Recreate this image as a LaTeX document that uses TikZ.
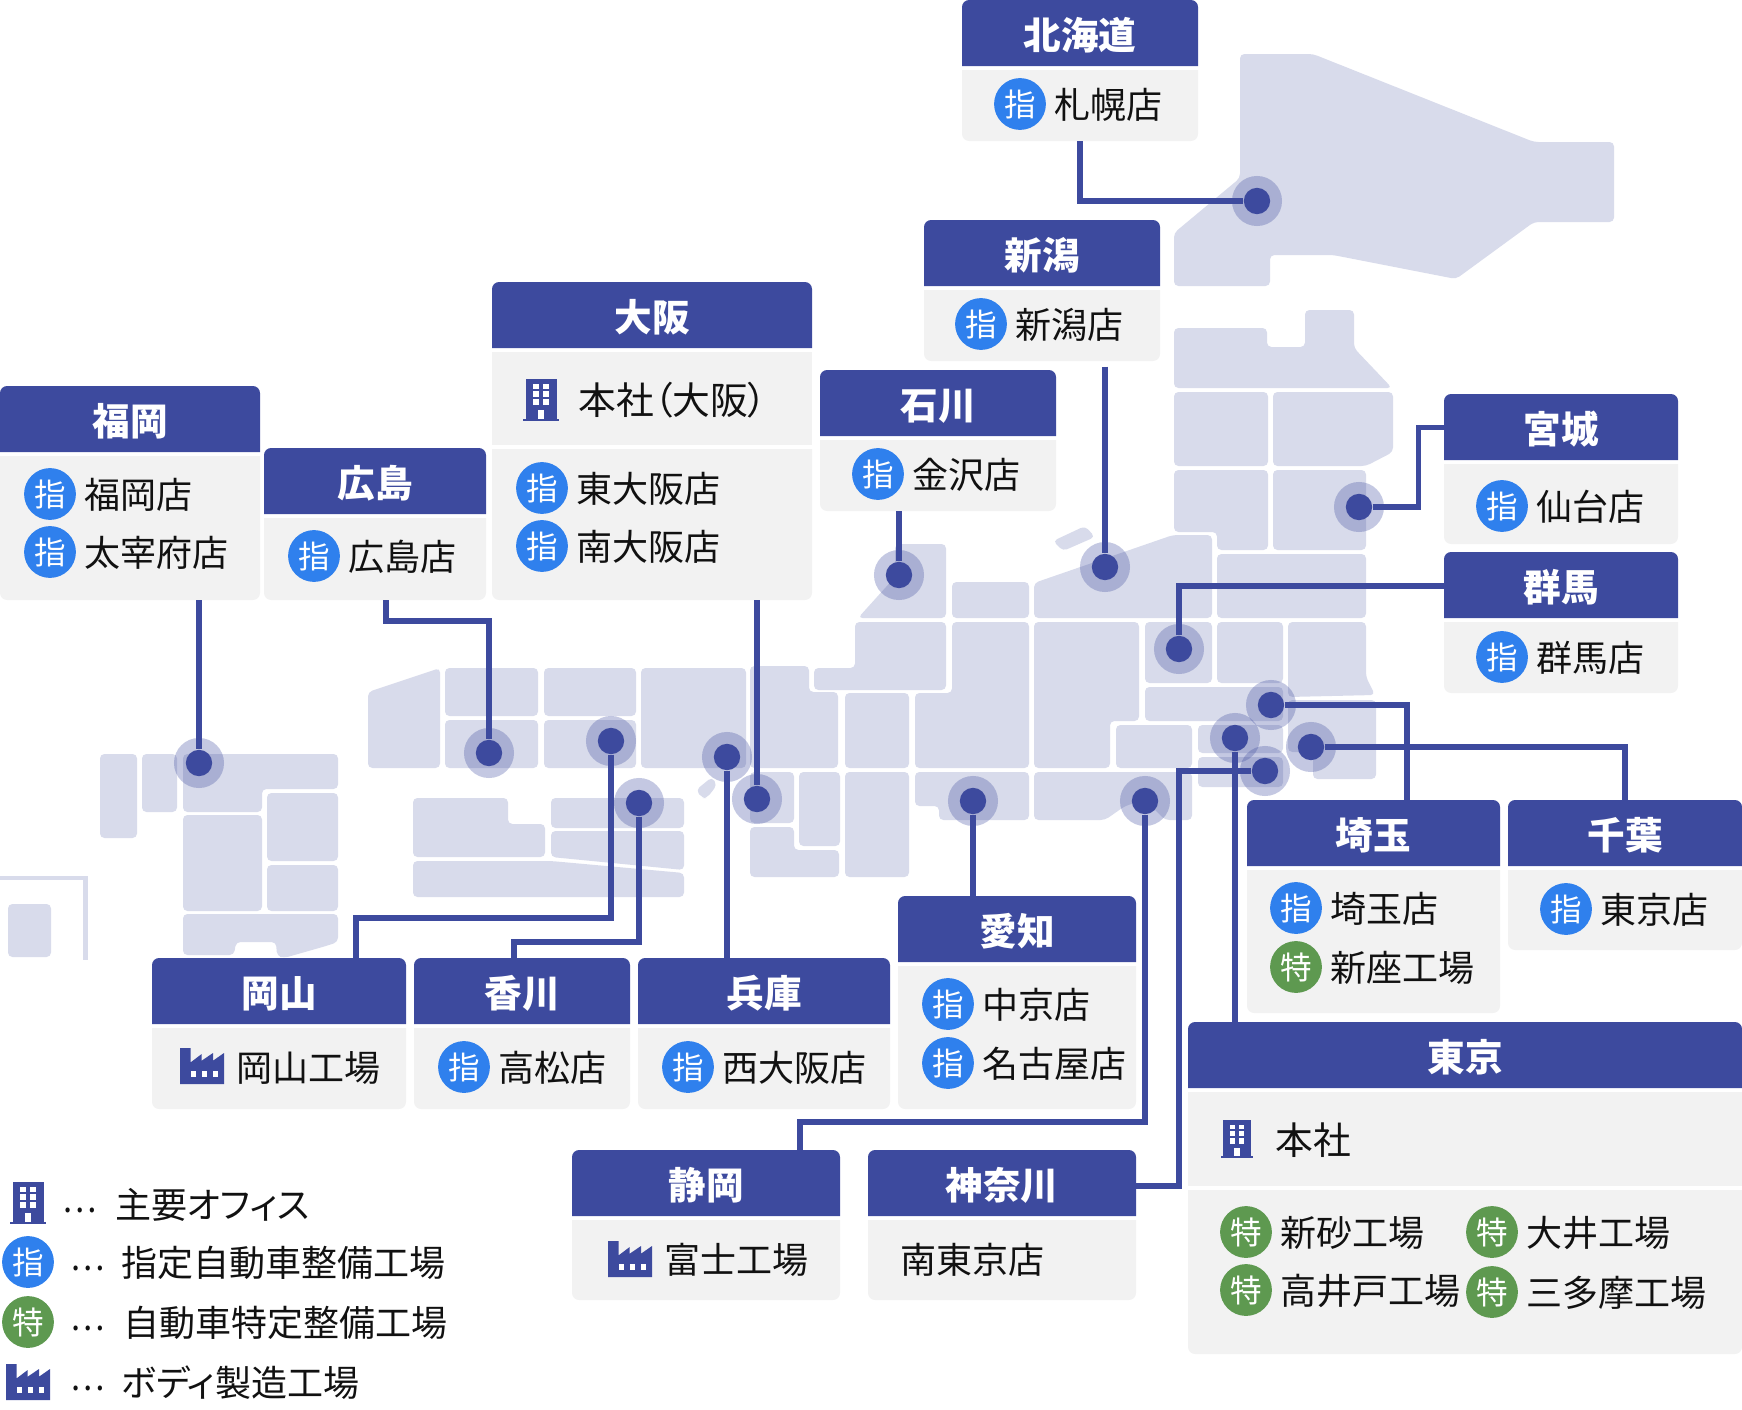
\documentclass[tikz,border=0pt]{standalone}
\usepackage{fontspec}
\usepackage{tikz}
\usetikzlibrary{positioning}
\setmainfont[RawFeature={+palt}]{Noto Sans CJK JP}

\definecolor{headc}{HTML}{3D4A9E}
\definecolor{bodyc}{HTML}{F2F2F2}
\definecolor{mapc}{HTML}{D8DBEB}
\definecolor{shic}{HTML}{2F80ED}
\definecolor{tokuc}{HTML}{5E9950}
\definecolor{textc}{HTML}{111111}

\tikzset{
        pref/.style={fill=mapc, rounded corners=2.5pt},
        link/.style={draw=headc, line width=3.1pt},
        halo/.style={circle, fill=headc, fill opacity=0.3, minimum size=28.5pt, inner sep=0},
        dot/.style={circle, fill=headc, minimum size=15pt, inner sep=0},
        headtext/.style={inner sep=0, minimum height=37.5pt, text=white, font=\fontsize{21.4pt}{25pt}\selectfont\bfseries, text height=21pt, text depth=2.5pt},
        bodybox/.style={inner sep=0},
        rowtext/.style={inner sep=0, text=textc, font=\fontsize{20.5pt}{25pt}\selectfont, text height=19.2pt, text depth=2.5pt},
        hqtext/.style={rowtext, font=\fontsize{21.5pt}{25pt}\selectfont},
        dotstext/.style={rowtext, yshift=3.8pt, xscale=0.9},
        badge/.style={circle, inner sep=0, minimum size=29.5pt, text=white, font=\fontsize{18pt}{22pt}\selectfont, text height=16.6pt, text depth=2.2pt},
        shibadge/.style={badge, fill=shic},
        tokubadge/.style={badge, fill=tokuc},
        office/.pic={
                \fill [headc] (-15.5,-21) rectangle (15.5,19);
                \fill [headc] (-18,19) rectangle (18,21);
                \fill [white] (-8,-16) rectangle (-2,-11);
                \fill [white] (2,-16) rectangle (8,-11);
                \fill [white] (-8,-9) rectangle (-2,-3);
                \fill [white] (2,-9) rectangle (8,-3);
                \fill [white] (-8,-1) rectangle (-2,5);
                \fill [white] (2,-1) rectangle (8,5);
                \fill [white] (-3,10) rectangle (3,19);
        },
        factory/.pic={
                \fill [headc] (-22,-18) -- (-11.3,-18) -- (-11.3,-3.7) -- (-0.3,-12) -- (-0.3,-5.3) -- (11,-13) -- (11,-5.3) -- (22,-13) -- (22,18) -- (-22,18) -- cycle;
                \fill [white] (-10.7,4.7) rectangle (-6.3,11.3);
                \fill [white] (0.3,4.7) rectangle (5.3,11.3);
                \fill [white] (11.3,4.7) rectangle (16,11.3);
        },
}

% name, left, right, top, title
\newcommand{\prefhead}[5]{
        \fill [headc] (#2,{#4+66}) [rounded corners=4pt] -- (#2,#4) -- (#3,#4) [sharp corners] -- (#3,{#4+66}) -- cycle;
        \node [headtext, minimum width={(#3-#2)*0.02cm}] (#1) at ({(#2+#3)/2},{#4+33}) {#5};
}
% name, left, right, top, bottom
\newcommand{\prefbody}[5]{
        \fill [bodyc] (#2,#4) -- (#3,#4) [rounded corners=4pt] -- (#3,#5) -- (#2,#5) [sharp corners] -- cycle;
        \node [bodybox, minimum width={(#3-#2)*0.02cm}, minimum height={(#5-#4)*0.02cm}] (#1) at ({(#2+#3)/2},{(#4+#5)/2}) {};
}
\newcommand{\shi}[4]{
        \node [shibadge] (#1) at (#2,#3) {指};
        \node [rowtext, right=4.5pt of #1] (#1t) {#4};
}
\newcommand{\toku}[4]{
        \node [tokubadge] (#1) at (#2,#3) {特};
        \node [rowtext, right=4.5pt of #1] (#1t) {#4};
}
\newcommand{\spot}[3]{
        \node [halo] (#1h) at (#2,#3) {};
        \node [dot] (#1) at (#2,#3) {};
}

\begin{document}
\begin{tikzpicture}[x=0.02cm, y=-0.02cm]

        \useasboundingbox (0,0) rectangle (1742,1410);

        % map, kyushu
        \draw [mapc, line width=2.4pt] (0,878) -| (85.5,960);
        \fill [pref] (8,904) rectangle (51,957);
        \fill [pref] (100,754) rectangle (137,838);
        \fill [pref] (142,754) rectangle (177,812);
        \fill [pref] (183,754) -- (338,754) -- (338,789) -- (262,789) -- (262,812) -- (183,812) -- cycle;
        \fill [pref] (183,815) rectangle (262,911);
        \fill [pref] (267,793) rectangle (338,861);
        \fill [pref] (267,865) rectangle (338,911);
        \fill [pref] (183,914) -- (338,914) -- (338,942) -- (326,946) -- (284,958) -- (277,956) -- (276,942) -- (236,942) -- (234,955) -- (183,955) -- cycle;

        % map, chugoku and shikoku
        \fill [pref] (368,768) -- (368,692) -- (440,668) -- (440,768) -- cycle;
        \fill [pref] (445,668) rectangle (538,716);
        \fill [pref] (544,668) rectangle (636,716);
        \fill [pref] (445,720) rectangle (538,768);
        \fill [pref] (544,720) rectangle (636,768);
        \fill [pref] (413,798) -- (508,798) -- (508,824) -- (545,824) -- (545,857) -- (413,857) -- cycle;
        \fill [pref] (413,861) -- (551,861) -- (684,873) -- (684,897) -- (413,897) -- cycle;
        \fill [pref] (551,798) rectangle (684,828);
        \fill [pref] (551,831) -- (684,831) -- (684,870) -- (551,857) -- cycle;

        % map, kansai
        \fill [pref] (641,668) rectangle (746,768);
        \fill [pref] (750,666) -- (809,666) -- (809,692) -- (838,692) -- (838,768) -- (750,768) -- cycle;
        \fill [pref] (750,772) rectangle (794,823);
        \fill [pref] (799,772) rectangle (840,846);
        \fill [pref] (845,772) rectangle (909,877);
        \fill [pref] (750,827) -- (794,827) -- (794,850) -- (839,850) -- (839,877) -- (750,877) -- cycle;
        \fill [pref] (696,790) -- (712,777) -- (717,785) -- (707,798) -- (702,798) -- cycle;

        % map, chubu
        \fill [pref] (858,618) -- (895,577) -- (895,544) -- (946,544) -- (946,618) -- cycle;
        \fill [pref] (952,582) rectangle (1029,618);
        \fill [pref] (1034,618) -- (1034,583) -- (1173,535) -- (1212,535) -- (1212,618) -- cycle;
        \fill [pref] (1053,541) -- (1085,526) -- (1095,537) -- (1063,551) -- cycle;
        \fill [pref] (855,622) -- (946,622) -- (946,690) -- (814,690) -- (814,668) -- (855,668) -- cycle;
        \fill [pref] (952,622) -- (1029,622) -- (1029,768) -- (915,768) -- (915,693) -- (952,693) -- cycle;
        \fill [pref] (845,693) rectangle (909,768);
        \fill [pref] (1034,622) -- (1139,622) -- (1139,721) -- (1110,721) -- (1110,768) -- (1034,768) -- cycle;
        \fill [pref] (1116,725) rectangle (1192,768);
        \fill [pref] (915,772) -- (1029,772) -- (1029,820) -- (939,820) -- (939,806) -- (915,806) -- cycle;
        \fill [pref] (1034,772) -- (1192,772) -- (1192,820) -- (1165,820) -- (1145,800) -- (1125,806) -- (1105,820) -- (1034,820) -- cycle;

        % map, kanto
        \fill [pref] (1145,622) rectangle (1212,683);
        \fill [pref] (1217,622) rectangle (1283,683);
        \fill [pref] (1288,622) -- (1366,622) -- (1366,677) -- (1375,695) -- (1288,697) -- cycle;
        \fill [pref] (1145,687) rectangle (1283,721);
        \fill [pref] (1288,700) -- (1376,700) -- (1376,779) -- (1313,779) -- (1313,752) -- (1288,752) -- cycle;
        \fill [pref] (1198,725) rectangle (1283,753);
        \fill [pref] (1198,757) rectangle (1283,787);

        % map, tohoku and hokkaido
        \fill [pref] (1240,54) -- (1313,54) -- (1534,142) -- (1614,142) -- (1614,222) -- (1534,222) -- (1456,279) -- (1333,255) -- (1270,255) -- (1270,286) -- (1174,286) -- (1174,233) -- (1240,178) -- cycle;
        \fill [pref] (1174,328) -- (1267,328) -- (1267,347) -- (1305,347) -- (1305,310) -- (1354,310) -- (1354,348) -- (1392,388) -- (1174,388) -- cycle;
        \fill [pref] (1174,392) rectangle (1268,466);
        \fill [pref] (1273,392) -- (1393,392) -- (1393,452) -- (1366,466) -- (1273,466) -- cycle;
        \fill [pref] (1174,470) -- (1268,470) -- (1268,550) -- (1217,550) -- (1217,532) -- (1174,532) -- cycle;
        \fill [pref] (1273,470) rectangle (1366,550);
        \fill [pref] (1217,554) rectangle (1366,618);

        % spots
        \spot{mHokkaido}{1257}{201}
        \spot{mMiyagi}{1359}{507}
        \spot{mIshikawa}{899}{575}
        \spot{mNiigata}{1105}{567}
        \spot{mGunma}{1179}{649}
        \spot{mSaitama}{1271}{705}
        \spot{mTokyo}{1235}{738}
        \spot{mKanagawa}{1265}{771}
        \spot{mChiba}{1311}{747}
        \spot{mShizuoka}{1145}{801}
        \spot{mAichi}{973}{801}
        \spot{mHyogo}{727}{757}
        \spot{mOsaka}{757}{799}
        \spot{mKagawa}{639}{803}
        \spot{mOkayama}{611}{741}
        \spot{mHiroshima}{489}{753}
        \spot{mFukuoka}{199}{763}

        % hokkaido
        \prefhead{hHokkaido}{962}{1198}{0}{北海道}
        \prefbody{bHokkaido}{962}{1198}{70}{141}
        \shi{sSapporo}{1020}{104}{札幌店}

        % niigata
        \prefhead{hNiigata}{924}{1160}{220}{新潟}
        \prefbody{bNiigata}{924}{1160}{290}{361}
        \shi{sNiigata}{981}{324}{新潟店}

        % osaka
        \prefhead{hOsaka}{492}{812}{282}{大阪}
        \fill [bodyc] (492,352) rectangle (812,445);
        \node [bodybox, minimum width=182pt, minimum height=53pt] (bOsakaTop) at (652,398.5) {};
        \prefbody{bOsaka}{492}{812}{449}{600}
        \pic at (541,400) {office};
        \node [hqtext, anchor=west] (tOsakaHq) at (578,400) {本社（大阪）};
        \shi{sHigashi}{542}{488}{東大阪店}
        \shi{sMinami}{542}{546}{南大阪店}

        % ishikawa
        \prefhead{hIshikawa}{820}{1056}{370}{石川}
        \prefbody{bIshikawa}{820}{1056}{440}{511}
        \shi{sKanazawa}{878}{474}{金沢店}

        % fukuoka
        \prefhead{hFukuoka}{0}{260}{386}{福岡}
        \prefbody{bFukuoka}{0}{260}{456}{600}
        \shi{sFukuoka}{50}{494}{福岡店}
        \shi{sDazaifu}{50}{552}{太宰府店}

        % hiroshima
        \prefhead{hHiroshima}{264}{486}{448}{広島}
        \prefbody{bHiroshima}{264}{486}{518}{600}
        \shi{sHiroshima}{314}{556}{広島店}

        % miyagi
        \prefhead{hMiyagi}{1444}{1678}{394}{宮城}
        \prefbody{bMiyagi}{1444}{1678}{464}{544}
        \shi{sSendai}{1502}{506}{仙台店}

        % gunma
        \prefhead{hGunma}{1444}{1678}{552}{群馬}
        \prefbody{bGunma}{1444}{1678}{622}{693}
        \shi{sGunma}{1502}{657}{群馬店}

        % okayama
        \prefhead{hOkayama}{152}{406}{958}{岡山}
        \prefbody{bOkayama}{152}{406}{1028}{1109}
        \pic at (202,1066) {factory};
        \node [rowtext, anchor=west] (tOkayama) at (236,1067) {岡山工場};

        % kagawa
        \prefhead{hKagawa}{414}{630}{958}{香川}
        \prefbody{bKagawa}{414}{630}{1028}{1109}
        \shi{sTakamatsu}{464}{1067}{高松店}

        % hyogo
        \prefhead{hHyogo}{638}{890}{958}{兵庫}
        \prefbody{bHyogo}{638}{890}{1028}{1109}
        \shi{sNishi}{688}{1067}{西大阪店}

        % aichi
        \prefhead{hAichi}{898}{1136}{896}{愛知}
        \prefbody{bAichi}{898}{1136}{966}{1109}
        \shi{sChukyo}{948}{1004}{中京店}
        \shi{sNagoya}{948}{1063}{名古屋店}

        % shizuoka
        \prefhead{hShizuoka}{572}{840}{1150}{静岡}
        \prefbody{bShizuoka}{572}{840}{1220}{1300}
        \pic at (630,1259) {factory};
        \node [rowtext, anchor=west] (tFuji) at (664,1259) {富士工場};

        % kanagawa
        \prefhead{hKanagawa}{868}{1136}{1150}{神奈川}
        \prefbody{bKanagawa}{868}{1136}{1220}{1300}
        \node [rowtext, anchor=west] (tMinamiTokyo) at (900,1259) {南東京店};

        % saitama
        \prefhead{hSaitama}{1247}{1500}{800}{埼玉}
        \prefbody{bSaitama}{1247}{1500}{870}{1013}
        \shi{sSaitama}{1296}{908}{埼玉店}
        \toku{sNiiza}{1296}{967}{新座工場}

        % chiba
        \prefhead{hChiba}{1508}{1742}{800}{千葉}
        \prefbody{bChiba}{1508}{1742}{870}{950}
        \shi{sTokyoChiba}{1566}{909}{東京店}

        % tokyo
        \prefhead{hTokyo}{1188}{1742}{1022}{東京}
        \fill [bodyc] (1188,1092) rectangle (1742,1186);
        \node [bodybox, minimum width=315pt, minimum height=53.5pt] (bTokyoTop) at (1465,1139) {};
        \prefbody{bTokyo}{1188}{1742}{1190}{1354}
        \pic [scale=0.9] at (1237,1139) {office};
        \node [hqtext, anchor=west] (tTokyoHq) at (1275,1140) {本社};
        \toku{sShinsuna}{1246}{1232}{新砂工場}
        \toku{sTakaido}{1246}{1290}{高井戸工場}
        \toku{sOi}{1492}{1232}{大井工場}
        \toku{sTama}{1492}{1292}{三多摩工場}

        % connectors
        \coordinate (kHiroshima) at (386,600);
        \coordinate (kHiroshimaB) at (489,621);
        \coordinate (kOkayama) at (356,958);
        \coordinate (kOkayamaB) at (611,918);
        \coordinate (kKagawa) at (514,958);
        \coordinate (kKagawaB) at (639,942);
        \coordinate (kShizuoka) at (800,1150);
        \coordinate (kShizuokaB) at (1145,1122);
        \coordinate (kMiyagi) at (1418.5,507);
        \coordinate (kKanagawa) at (1179,1186);

        \draw [link] (bFukuoka.south -| mFukuoka) -- (mFukuoka);
        \draw [link] (kHiroshima) |- (kHiroshimaB) -- (mHiroshima);
        \draw [link] (bOsaka.south -| mOsaka) -- (mOsaka);
        \draw [link] (bIshikawa.south -| mIshikawa) -- (mIshikawa);
        \draw [link, shorten <=3pt] (bNiigata.south -| mNiigata) -- (mNiigata);
        \draw [link] (bHokkaido.south) |- (mHokkaido);
        \draw [link] (mMiyagi) -- (kMiyagi) |- (hMiyagi.west |- 0,427.5);
        \draw [link] (mGunma) |- (hGunma.west |- 0,586);
        \draw [link] (mSaitama) -| (hSaitama.north -| 1407,0);
        \draw [link] (mChiba) -| (hChiba.north);
        \draw [link] (mTokyo) -- (hTokyo.north -| mTokyo);
        \draw [link] (mKanagawa) -| (kKanagawa) -- (hKanagawa.east |- kKanagawa);
        \draw [link] (mShizuoka) -- (kShizuokaB) -| (kShizuoka);
        \draw [link] (mAichi) -- (hAichi.north -| mAichi);
        \draw [link] (mHyogo) -- (hHyogo.north -| mHyogo);
        \draw [link] (mKagawa) -- (kKagawaB) -| (kKagawa);
        \draw [link] (mOkayama) -- (kOkayamaB) -| (kOkayama);

        % legend
        \pic at (28,1203) {office};
        \node [dotstext] (lDotsA) at (80,1204) {⋯};
        \node [rowtext, anchor=west] (lOffice) at (115,1204) {主要オフィス};

        \node [shibadge] (lShi) at (28,1262) {指};
        \node [dotstext] (lDotsB) at (88,1262) {⋯};
        \node [rowtext, anchor=west] (lShiText) at (121,1262) {指定自動車整備工場};

        \node [tokubadge] (lToku) at (28,1322) {特};
        \node [dotstext] (lDotsC) at (88,1322) {⋯};
        \node [rowtext, anchor=west] (lTokuText) at (123,1322) {自動車特定整備工場};

        \pic at (28,1382) {factory};
        \node [dotstext] (lDotsD) at (88,1382) {⋯};
        \node [rowtext, anchor=west] (lBody) at (121,1382) {ボディ製造工場};

\end{tikzpicture}
\end{document}
